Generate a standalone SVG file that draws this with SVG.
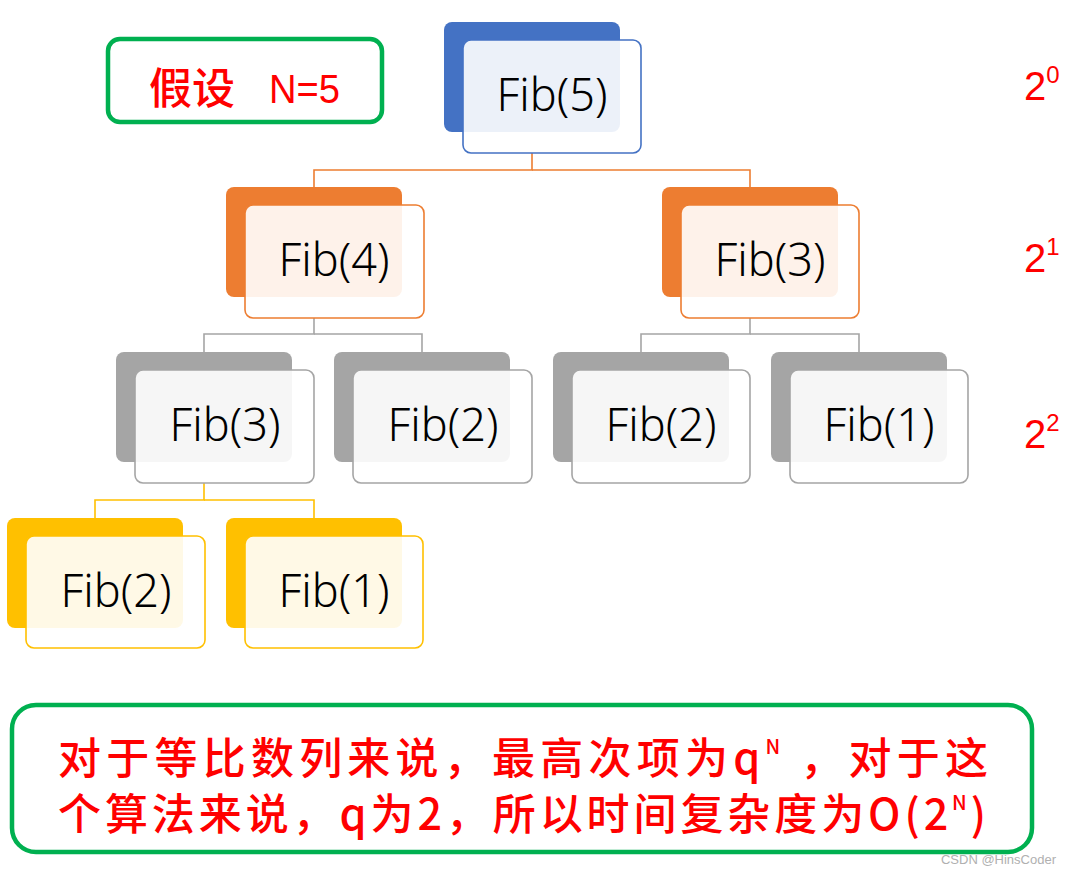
<svg xmlns="http://www.w3.org/2000/svg" width="1071" height="875" viewBox="0 0 1071 875">
<style>
.bk{stroke:none}
.fr{fill:#fff;fill-opacity:0.9;stroke-width:1.6}
.lbl{font-family:"Noto Sans","DejaVu Sans",sans-serif;font-size:45px;font-weight:300;fill:#000;text-anchor:middle}
.red{font-family:"Liberation Sans","Noto Sans CJK SC",sans-serif;fill:#ff0000}
.cn{font-family:"Noto Sans CJK SC","Liberation Sans",sans-serif;fill:#ff0000;font-weight:500}
.conn{fill:none;stroke-width:1.6}
.box{fill:#fff;stroke:#00b050;stroke-width:4.5}
</style>
<rect width="1071" height="875" fill="#fff"/>
<g id="connectors">
<polyline class="conn" stroke="#ED7D31" points="532,153 532,170 314,170 314,187"/>
<polyline class="conn" stroke="#ED7D31" points="532,170 750,170 750,187"/>
<polyline class="conn" stroke="#A5A5A5" points="314,318 314,334 204,334 204,352"/>
<polyline class="conn" stroke="#A5A5A5" points="314,334 422,334 422,352"/>
<polyline class="conn" stroke="#A5A5A5" points="750,318 750,334 641,334 641,352"/>
<polyline class="conn" stroke="#A5A5A5" points="750,334 859,334 859,352"/>
<polyline class="conn" stroke="#FFC000" points="204,483 204,500 95,500 95,518"/>
<polyline class="conn" stroke="#FFC000" points="204,500 314,500 314,518"/>
</g>
<g id="assume">
<rect class="box" x="108" y="39" width="274" height="83" rx="12"/>
<text class="cn" x="149" y="104" font-size="43">假设</text>
<text class="red" x="269" y="103" font-size="41" textLength="71" lengthAdjust="spacingAndGlyphs">N=5</text>
</g>
<g id="fib5">
<rect class="bk" x="444" y="22" width="176" height="110" rx="8" fill="#4472C4"/>
<rect class="fr" x="463" y="40" width="178" height="113" rx="8" stroke="#4472C4"/>
<text class="lbl" x="552" y="111">Fib(5)</text>
</g>
<g id="fib4">
<rect class="bk" x="226" y="187" width="176" height="110" rx="8" fill="#ED7D31"/>
<rect class="fr" x="245" y="205" width="179" height="113" rx="8" stroke="#ED7D31"/>
<text class="lbl" x="334" y="276">Fib(4)</text>
</g>
<g id="fib3a">
<rect class="bk" x="662" y="187" width="176" height="110" rx="8" fill="#ED7D31"/>
<rect class="fr" x="681" y="205" width="178" height="113" rx="8" stroke="#ED7D31"/>
<text class="lbl" x="770" y="276">Fib(3)</text>
</g>
<g id="fib3b">
<rect class="bk" x="116" y="352" width="176" height="110" rx="8" fill="#A5A5A5"/>
<rect class="fr" x="135" y="370" width="179" height="113" rx="8" stroke="#A5A5A5"/>
<text class="lbl" x="225" y="441">Fib(3)</text>
</g>
<g id="fib2a">
<rect class="bk" x="334" y="352" width="176" height="110" rx="8" fill="#A5A5A5"/>
<rect class="fr" x="353" y="370" width="179" height="113" rx="8" stroke="#A5A5A5"/>
<text class="lbl" x="443" y="441">Fib(2)</text>
</g>
<g id="fib2b">
<rect class="bk" x="553" y="352" width="176" height="110" rx="8" fill="#A5A5A5"/>
<rect class="fr" x="572" y="370" width="178" height="113" rx="8" stroke="#A5A5A5"/>
<text class="lbl" x="661" y="441">Fib(2)</text>
</g>
<g id="fib1a">
<rect class="bk" x="771" y="352" width="176" height="110" rx="8" fill="#A5A5A5"/>
<rect class="fr" x="790" y="370" width="178" height="113" rx="8" stroke="#A5A5A5"/>
<text class="lbl" x="879" y="441">Fib(1)</text>
</g>
<g id="fib2c">
<rect class="bk" x="7" y="518" width="176" height="110" rx="8" fill="#FFC000"/>
<rect class="fr" x="26" y="536" width="179" height="112" rx="8" stroke="#FFC000"/>
<text class="lbl" x="116" y="607">Fib(2)</text>
</g>
<g id="fib1b">
<rect class="bk" x="226" y="518" width="176" height="110" rx="8" fill="#FFC000"/>
<rect class="fr" x="245" y="536" width="178" height="112" rx="8" stroke="#FFC000"/>
<text class="lbl" x="334" y="607">Fib(1)</text>
</g>
<g id="levels">
<text class="red" x="1024" y="100" font-size="40">2<tspan font-size="24" dy="-17">0</tspan></text>
<text class="red" x="1024" y="272" font-size="40">2<tspan font-size="24" dy="-17">1</tspan></text>
<text class="red" x="1024" y="448" font-size="40">2<tspan font-size="24" dy="-17">2</tspan></text>
</g>
<g id="note">
<rect class="box" x="12" y="705" width="1020" height="147" rx="24"/>
<text class="cn" x="58" y="774" font-size="43" textLength="930" lengthAdjust="spacing">对于等比数列来说，最高次项为q<tspan font-size="20" dy="-20">N</tspan><tspan dy="20"> ，对于这</tspan></text>
<text class="cn" x="58" y="830" font-size="43" textLength="928" lengthAdjust="spacing">个算法来说，q为2，所以时间复杂度为O(2<tspan font-size="20" dy="-20">N</tspan><tspan dy="20">)</tspan></text>
</g>
<text x="1056" y="864" font-family="Liberation Sans, sans-serif" font-size="13" fill="#b0b0b0" text-anchor="end">CSDN @HinsCoder</text>
</svg>
